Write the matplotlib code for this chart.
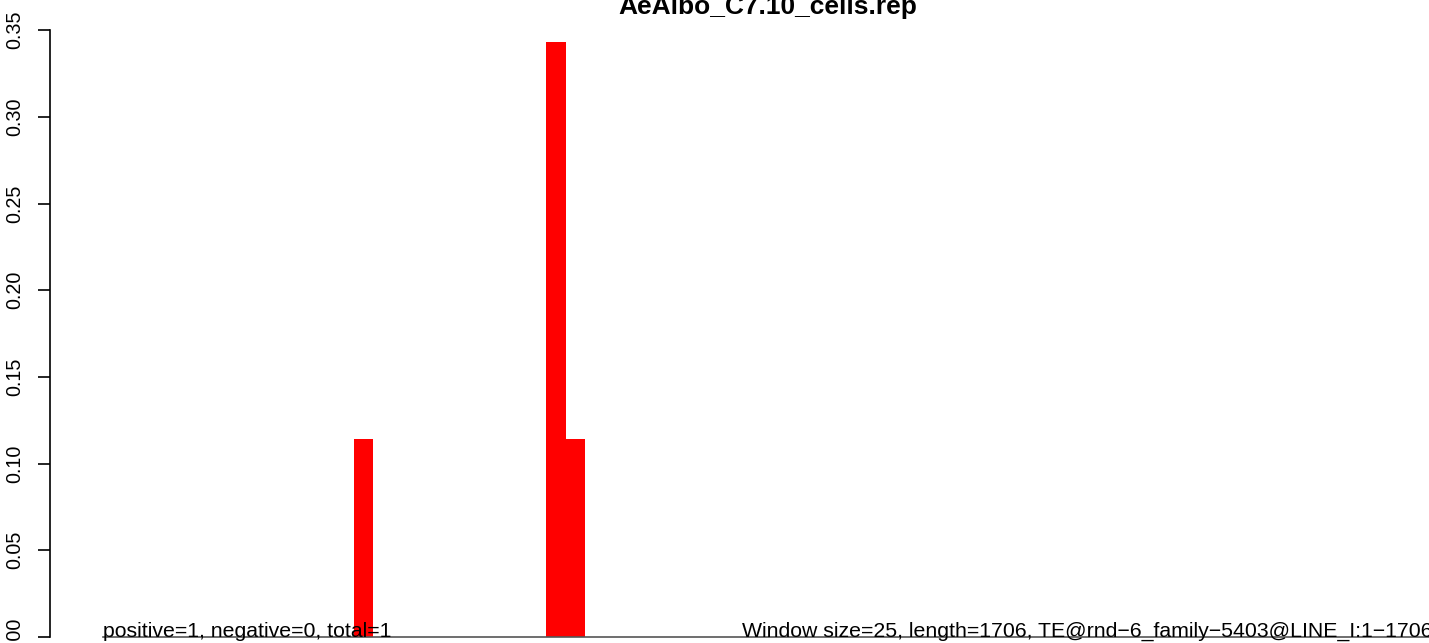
import matplotlib
matplotlib.use("Agg")
import matplotlib.pyplot as plt
import numpy as np

plt.rcParams['font.family'] = ['Liberation Sans', 'DejaVu Sans']

# Data: 69 windows of 25 bp over 1706 bp, only a few non-zero
n_windows = 69
nonzero_idx = [13, 23, 24]
nonzero_val = [0.114, 0.343, 0.114]
values = np.zeros(n_windows)
values[nonzero_idx] = nonzero_val

title = "AeAlbo_C7.10_cells.rep"
left_text = "positive=1, negative=0, total=1"
right_text = "Window size=25, length=1706, TE@rnd\u22126_family\u22125403@LINE_I:1\u22121706"
yticks = [0.00, 0.05, 0.10, 0.15, 0.20, 0.25, 0.30, 0.35]

W, H = 1429, 643
fig = plt.figure(figsize=(W / 100, H / 100), dpi=100)

# axes placed in pixel terms (plot region runs past the right edge)
x0, x1 = 50, 1486
ytop = 18
ax = fig.add_axes([x0 / W, 0, (x1 - x0) / W, (H - ytop) / H])

ax.bar(np.arange(n_windows), values, width=1.0, align='edge',
       color='#ff0000', edgecolor='none')

pad = 0.04 * n_windows
ax.set_xlim(-pad, n_windows + pad)
ax.set_ylim(-6 / 1734, (637 - ytop) / 1734)

# baseline line under the bars
ax.plot([0, n_windows + pad], [0, 0], color='#555555', lw=1.2)

for s in ['top', 'right', 'bottom']:
    ax.spines[s].set_visible(False)
ax.spines['left'].set_bounds(0, 0.35)
ax.spines['left'].set_linewidth(1.2)
ax.set_xticks([])
ax.set_yticks(yticks)
ax.set_yticklabels(["%.2f" % v for v in yticks], rotation=90, va='center',
                   fontsize=14.2)
ax.tick_params(axis='y', length=8.6, width=1.2, pad=10)

ax.text(0, 0, left_text, ha='left', va='baseline', fontsize=15.3)
ax.text(n_windows, 0, right_text, ha='right', va='baseline', fontsize=15.3)

fig.text((x0 + x1) / 2 / W, 1 - 14 / H, title, ha='center', va='baseline',
         fontsize=19, fontweight='bold')

plt.savefig("out.png", dpi=100)
